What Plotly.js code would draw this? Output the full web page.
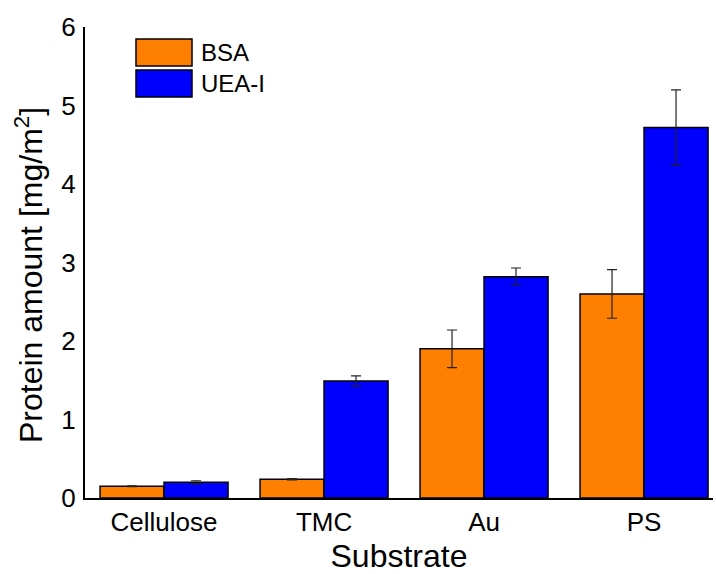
<!DOCTYPE html>
<html>
<head>
<meta charset="utf-8">
<script src="https://cdn.plot.ly/plotly-3.0.1.min.js"></script>
<style>html,body{margin:0;padding:0;background:#fff}#chart{width:716px;height:574px}</style>
</head>
<body>
<div id="chart"></div>
<script>
const substrates = ["Cellulose", "TMC", "Au", "PS"];
const seriesNames = ["BSA", "UEA-I"];
const bsaValues = [0.15, 0.24, 1.90, 2.60];
const bsaErrors = [0.005, 0.008, 0.24, 0.31];
const ueaValues = [0.20, 1.49, 2.82, 4.72];
const ueaErrors = [0.02, 0.065, 0.11, 0.48];
const yTicks = [0, 1, 2, 3, 4, 5, 6];
const colors = ["#FF8000", "#0000FF"];

const FONT = "Liberation Sans, Arial, sans-serif";

function barTrace(name, vals, errs, color) {
  return {
    type: "bar",
    name: name,
    x: substrates,
    y: vals,
    marker: {color: color, line: {color: "#000", width: 1.5}},
    error_y: {type: "data", array: errs, visible: true, color: "#222", thickness: 1.2, width: 5},
    showlegend: false
  };
}

const data = [
  barTrace(seriesNames[0], bsaValues, bsaErrors, colors[0]),
  barTrace(seriesNames[1], ueaValues, ueaErrors, colors[1])
];

// legend drawn as paper-positioned swatches + labels
const legendShapes = [];
const legendAnn = [];
seriesNames.forEach((n, i) => {
  const top = 39 + i * 31;
  legendShapes.push({
    type: "rect", xref: "paper", yref: "paper",
    x0: (136 - 85) / 628, x1: (192 - 85) / 628,
    y0: (498 - (top + 27)) / 471, y1: (498 - top) / 471,
    fillcolor: colors[i], line: {color: "#000", width: 1.5}
  });
  legendAnn.push({
    xref: "paper", yref: "paper", x: (199 - 85) / 628, y: (498 - (top + 13.5)) / 471,
    xanchor: "left", yanchor: "middle", showarrow: false,
    text: n, font: {family: FONT, size: 24, color: "#000"}
  });
});

// y-axis title placed as rotated annotation
legendAnn.push({
  xref: "paper", yref: "paper", x: (29 - 85) / 628, y: (498 - 275) / 471,
  xanchor: "center", yanchor: "middle", textangle: -90, showarrow: false,
  text: "Protein amount [mg/m<sup>2</sup>]", font: {family: FONT, size: 32, color: "#000"}
});

const layout = {
  width: 716, height: 574,
  margin: {l: 85, r: 3, t: 27, b: 76},
  paper_bgcolor: "#fff", plot_bgcolor: "#fff",
  barmode: "group",
  bargap: 0.2, bargroupgap: 0,
  font: {family: FONT, color: "#000"},
  xaxis: {
    range: [-0.494, 3.431],
    showline: true, linecolor: "#000", linewidth: 2,
    ticks: "", showgrid: false, zeroline: false,
    tickfont: {size: 26, family: FONT},
    title: {text: "Substrate", font: {size: 32, family: FONT}, standoff: 11}
  },
  yaxis: {
    range: [0, 6],
    tickvals: yTicks,
    showline: true, linecolor: "#000", linewidth: 2,
    ticks: "", showgrid: false, zeroline: false,
    tickfont: {size: 26, family: FONT},
    ticklabelstandoff: 2
  },
  shapes: legendShapes,
  annotations: legendAnn
};

Plotly.newPlot("chart", data, layout, {displayModeBar: false, staticPlot: true});
</script>
</body>
</html>
